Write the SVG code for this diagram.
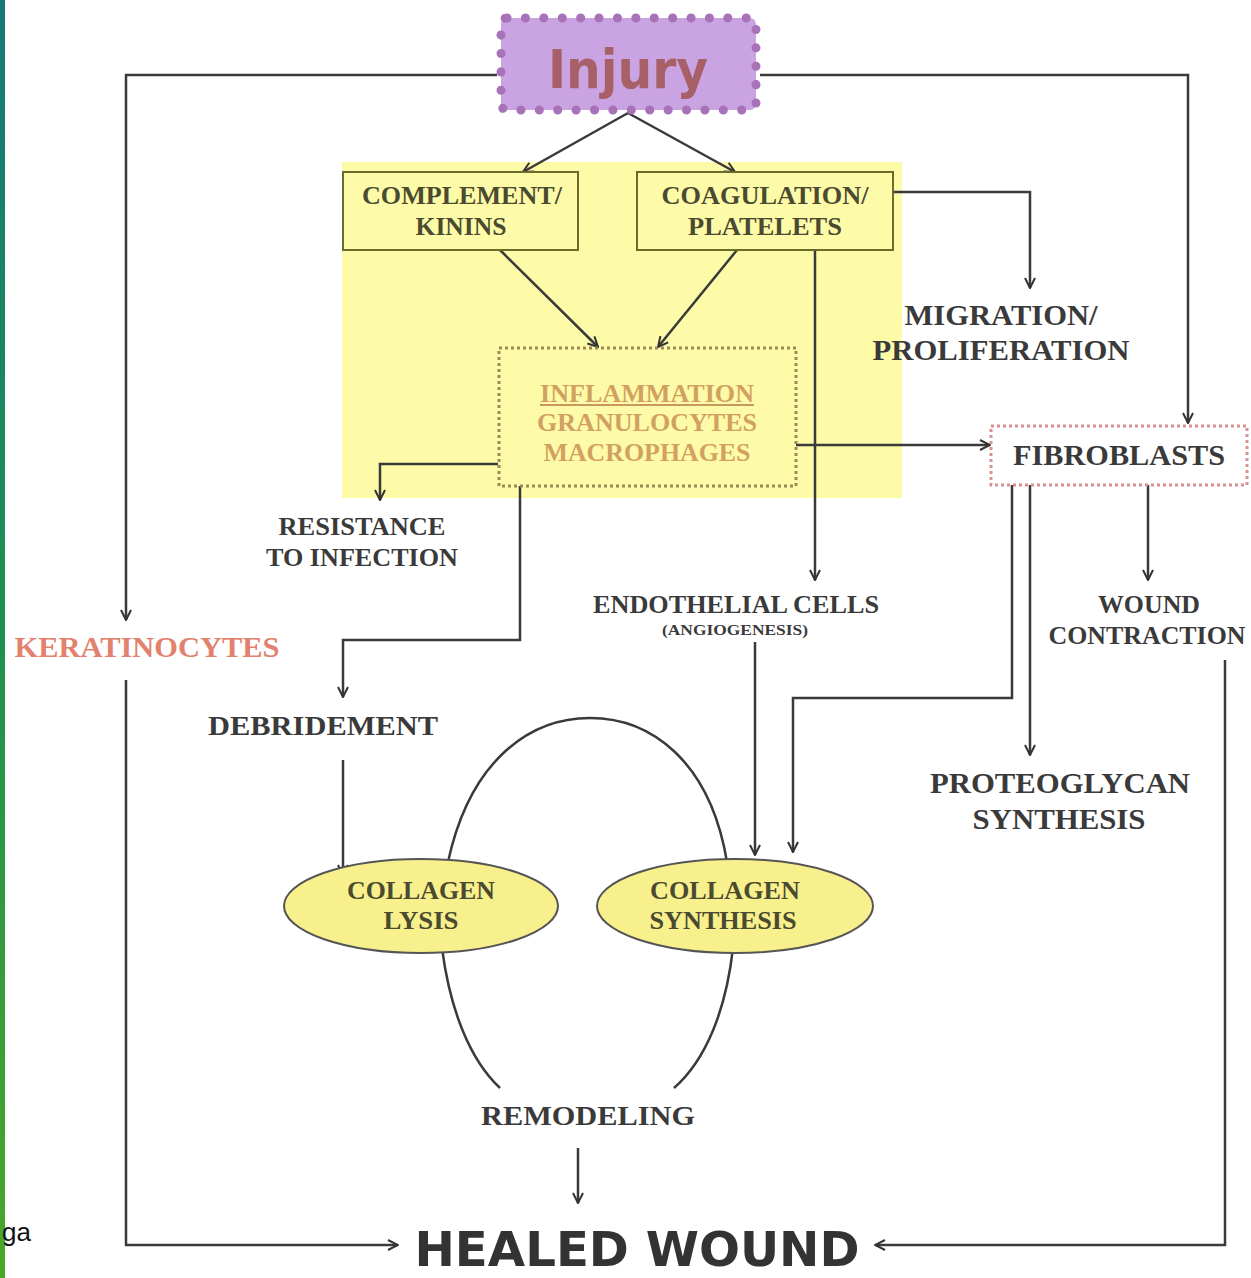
<svg xmlns="http://www.w3.org/2000/svg" width="1251" height="1278" viewBox="0 0 1251 1278">
<defs>
<linearGradient id="bar" x1="0" y1="0" x2="0" y2="1">
<stop offset="0" stop-color="#157a78"/>
<stop offset="0.5" stop-color="#1f9050"/>
<stop offset="1" stop-color="#4aa828"/>
</linearGradient>
<marker id="ah" viewBox="0 0 12 12" refX="11" refY="6" markerWidth="12" markerHeight="12" markerUnits="userSpaceOnUse" orient="auto">
<path d="M1,1 L11,6 L1,11" fill="none" stroke="#333" stroke-width="2"/>
</marker>
<style>
.ln{fill:none;stroke:#3a3a3a;stroke-width:2.5}
.t{font-family:"Liberation Serif","Times New Roman",serif;font-weight:bold;fill:#3a3a3a;text-anchor:middle}
.o{fill:#4a4a30}
.box{fill:none;stroke:#6b6b2a;stroke-width:2}
.ell{fill:#f8f08c;stroke:#555;stroke-width:2}
</style>
</defs>
<rect width="1251" height="1278" fill="#fff"/>
<rect x="0" y="0" width="5" height="1278" fill="url(#bar)"/>
<text x="2" y="1241" font-family="Liberation Sans, Arial, sans-serif" font-size="26" fill="#111">ga</text>
<rect x="342" y="162" width="560" height="336" fill="#fdfb9e" opacity="0.9"/>

<g id="connectors">
<path class="ln" d="M497,75 H126 V620" marker-end="url(#ah)"/>
<path class="ln" d="M760,75 H1188 V423" marker-end="url(#ah)"/>
<path class="ln" d="M628,113 L523,172" marker-end="url(#ah)"/>
<path class="ln" d="M628,113 L735,172" marker-end="url(#ah)"/>
<path class="ln" d="M500,250 L598,347" marker-end="url(#ah)"/>
<path class="ln" d="M737,250 L658,347" marker-end="url(#ah)"/>
<path class="ln" d="M893,192 H1030 V288" marker-end="url(#ah)"/>
<path class="ln" d="M815,250 V580" marker-end="url(#ah)"/>
<path class="ln" d="M796,445 H990" marker-end="url(#ah)"/>
<path class="ln" d="M498,464 H380 V500" marker-end="url(#ah)"/>
<path class="ln" d="M520,486 V640 H343 V697" marker-end="url(#ah)"/>
<path class="ln" d="M343,760 V875" marker-end="url(#ah)"/>
<path class="ln" d="M1012,485 V698 H793 V852" marker-end="url(#ah)"/>
<path class="ln" d="M1030,485 V755" marker-end="url(#ah)"/>
<path class="ln" d="M1148,485 V580" marker-end="url(#ah)"/>
<path class="ln" d="M755,642 V855" marker-end="url(#ah)"/>
<path class="ln" d="M126,680 V1245 H398" marker-end="url(#ah)"/>
<path class="ln" d="M1225,660 V1245 H875" marker-end="url(#ah)"/>
<path class="ln" d="M578,1148 V1203" marker-end="url(#ah)"/>
<path class="ln" d="M448,862 C470,760 530,718 590,718 C650,718 710,760 727,862"/>
<path class="ln" d="M442,948 C450,1010 470,1060 500,1088"/>
<path class="ln" d="M733,948 C726,1010 706,1060 674,1088"/>
</g>

<g id="injury">
<rect x="501" y="18" width="255" height="92" rx="6" fill="#caa4e2" stroke="#a872b8" stroke-width="9" stroke-dasharray="0.1 18.3" stroke-linecap="round"/>
<text x="628" y="88" font-family="DejaVu Sans Condensed, DejaVu Sans, sans-serif" font-weight="bold" font-size="54" fill="#a86068" text-anchor="middle" textLength="160" lengthAdjust="spacingAndGlyphs">Injury</text>
</g>

<g id="complement">
<rect class="box" x="343" y="172" width="235" height="78"/>
<text class="t o" x="462" y="204" font-size="25" textLength="200" lengthAdjust="spacingAndGlyphs">COMPLEMENT/</text>
<text class="t o" x="461" y="235" font-size="25" textLength="91" lengthAdjust="spacingAndGlyphs">KININS</text>
</g>

<g id="coagulation">
<rect class="box" x="637" y="172" width="256" height="78"/>
<text class="t o" x="765" y="204" font-size="25" textLength="207" lengthAdjust="spacingAndGlyphs">COAGULATION/</text>
<text class="t o" x="765" y="235" font-size="25" textLength="154" lengthAdjust="spacingAndGlyphs">PLATELETS</text>
</g>

<g id="migration">
<text class="t" x="1001" y="325" font-size="29" textLength="193" lengthAdjust="spacingAndGlyphs">MIGRATION/</text>
<text class="t" x="1001" y="360" font-size="29" textLength="257" lengthAdjust="spacingAndGlyphs">PROLIFERATION</text>
</g>

<g id="inflammation">
<rect x="499" y="348" width="297" height="138" fill="none" stroke="#9a8a5a" stroke-width="3" stroke-dasharray="3 3"/>
<text class="t" x="647" y="402" font-size="26" style="fill:#d2a060" textLength="214" lengthAdjust="spacingAndGlyphs">INFLAMMATION</text>
<line x1="540" y1="405" x2="754" y2="405" stroke="#c89860" stroke-width="2"/>
<text class="t" x="647" y="431" font-size="26" style="fill:#d2a060" textLength="220" lengthAdjust="spacingAndGlyphs">GRANULOCYTES</text>
<text class="t" x="647" y="461" font-size="26" style="fill:#d2a060" textLength="207" lengthAdjust="spacingAndGlyphs">MACROPHAGES</text>
</g>

<g id="fibroblasts">
<rect x="991" y="426" width="256" height="59" fill="#fff" stroke="#d89090" stroke-width="3" stroke-dasharray="3 3"/>
<text class="t" x="1119" y="465" font-size="29" textLength="212" lengthAdjust="spacingAndGlyphs">FIBROBLASTS</text>
</g>

<g id="resistance">
<text class="t" x="362" y="535" font-size="25" textLength="167" lengthAdjust="spacingAndGlyphs">RESISTANCE</text>
<text class="t" x="362" y="566" font-size="25" textLength="192" lengthAdjust="spacingAndGlyphs">TO INFECTION</text>
</g>

<g id="endothelial">
<text class="t" x="736" y="613" font-size="25" textLength="286" lengthAdjust="spacingAndGlyphs">ENDOTHELIAL CELLS</text>
<text class="t" x="735" y="635" font-size="14" textLength="146" lengthAdjust="spacingAndGlyphs">(ANGIOGENESIS)</text>
</g>

<g id="wound-contraction">
<text class="t" x="1149" y="613" font-size="26" textLength="102" lengthAdjust="spacingAndGlyphs">WOUND</text>
<text class="t" x="1147" y="644" font-size="26" textLength="197" lengthAdjust="spacingAndGlyphs">CONTRACTION</text>
</g>

<g id="keratinocytes">
<text class="t" x="147" y="657" font-size="29" style="fill:#e2826e" textLength="265" lengthAdjust="spacingAndGlyphs">KERATINOCYTES</text>
</g>

<g id="debridement">
<text class="t" x="323" y="735" font-size="28" textLength="230" lengthAdjust="spacingAndGlyphs">DEBRIDEMENT</text>
</g>

<g id="proteoglycan">
<text class="t" x="1060" y="793" font-size="29" textLength="260" lengthAdjust="spacingAndGlyphs">PROTEOGLYCAN</text>
<text class="t" x="1059" y="829" font-size="29" textLength="173" lengthAdjust="spacingAndGlyphs">SYNTHESIS</text>
</g>

<g id="collagen-lysis">
<ellipse class="ell" cx="421" cy="906" rx="137" ry="47"/>
<text class="t o" x="421" y="899" font-size="26" textLength="148" lengthAdjust="spacingAndGlyphs">COLLAGEN</text>
<text class="t o" x="421" y="929" font-size="26" textLength="75" lengthAdjust="spacingAndGlyphs">LYSIS</text>
</g>

<g id="collagen-synthesis">
<ellipse class="ell" cx="735" cy="906" rx="138" ry="47"/>
<text class="t o" x="725" y="899" font-size="26" textLength="150" lengthAdjust="spacingAndGlyphs">COLLAGEN</text>
<text class="t o" x="723" y="929" font-size="26" textLength="147" lengthAdjust="spacingAndGlyphs">SYNTHESIS</text>
</g>

<g id="remodeling">
<text class="t" x="588" y="1125" font-size="27" textLength="214" lengthAdjust="spacingAndGlyphs">REMODELING</text>
</g>

<g id="healed-wound">
<text x="637" y="1266" font-family="DejaVu Sans Condensed, DejaVu Sans, sans-serif" font-weight="bold" font-size="48" fill="#333" text-anchor="middle" textLength="445" lengthAdjust="spacingAndGlyphs">HEALED WOUND</text>
</g>
</svg>
